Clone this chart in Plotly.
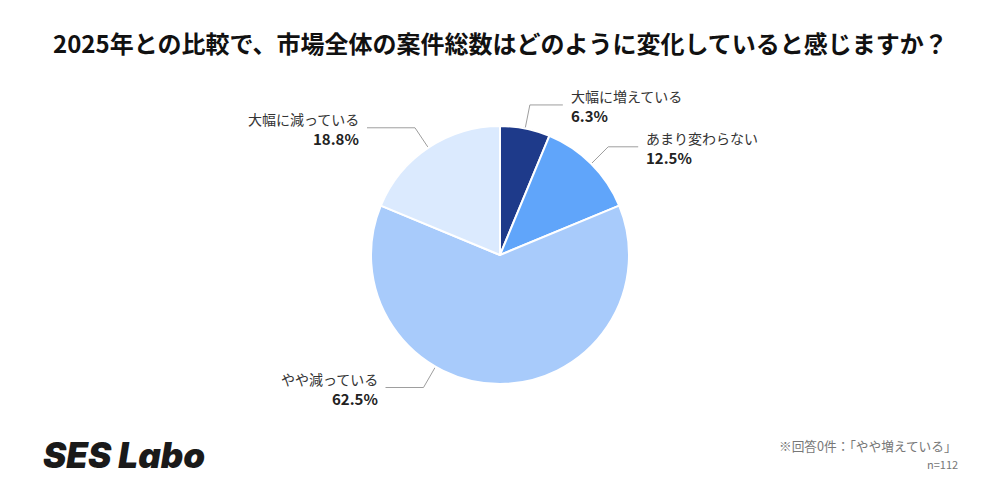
import math
import plotly.graph_objects as go

# ---- data ----
categories = ["大幅に増えている", "あまり変わらない", "やや減っている", "大幅に減っている"]
percent_labels = ["6.3%", "12.5%", "62.5%", "18.8%"]
values = [6.25, 12.5, 62.5, 18.75]
title_text = "2025年との比較で、市場全体の案件総数はどのように変化していると感じますか？"
note_text = "※回答0件：「やや増えている」"
n_text = "n=112"
logo_text = "SES Labo"

# ---- style ----
colors = ["#1e3a8a", "#60a5fa", "#a8cbfb", "#dbeafe"]
FONT = "Noto Sans CJK JP"
W, H = 1000, 500
CX, CY, R = 500, 255, 129          # pie geometry in pixels
RADIAL = 24                         # leader line radial length
label_angle_override = {2: 210.0}   # label anchor angle for large slice (deg, clockwise from top)
horiz_len = [33, 30, 38, 48]

fig = go.Figure()
fig.add_trace(go.Pie(
    labels=categories, values=values, sort=False, direction="clockwise",
    rotation=0, marker=dict(colors=colors, line=dict(color="white", width=2)),
    textinfo="none", hoverinfo="label+percent", showlegend=False,
    domain=dict(x=[(CX - R) / W, (CX + R) / W], y=[1 - (CY + R) / H, 1 - (CY - R) / H]),
))

total = sum(values)
annotations = []
cum = 0.0
for i, v in enumerate(values):
    mid = (cum + v / 2) / total * 360.0
    cum += v
    ang = math.radians(label_angle_override.get(i, mid))
    sx, sy = CX + (R + 1) * math.sin(ang), CY - (R + 1) * math.cos(ang)
    ex, ey = CX + (R + RADIAL) * math.sin(ang), CY - (R + RADIAL) * math.cos(ang)
    right = math.sin(ang) >= 0
    hx = ex + horiz_len[i] if right else ex - horiz_len[i]
    fig.add_trace(go.Scatter(x=[sx, ex, hx], y=[sy, ey, ey], mode="lines",
                             line=dict(color="#9e9e9e", width=1), hoverinfo="skip",
                             showlegend=False))
    tx = hx + 6 if right else hx - 6
    anchor = "left" if right else "right"
    annotations.append(dict(x=tx, y=ey - 9, text=categories[i], xref="x", yref="y",
                            showarrow=False, xanchor=anchor, yanchor="middle",
                            font=dict(family=FONT, size=14, color="#333333")))
    annotations.append(dict(x=tx, y=ey + 11, text="<b>" + percent_labels[i] + "</b>", xref="x", yref="y",
                            showarrow=False, xanchor=anchor, yanchor="middle",
                            font=dict(family=FONT, size=15, color="#222222")))

annotations += [
    dict(x=W / 2, y=42, text="<b>" + title_text + "</b>", xref="x", yref="y", showarrow=False,
         xanchor="center", yanchor="middle", font=dict(family=FONT, size=24, color="#111111")),
    dict(x=40, y=455, text="<i>" + logo_text + "</i>", xref="x", yref="y", showarrow=False,
         xanchor="left", yanchor="middle",
         font=dict(family="Inter", size=35, color="#1a1a1a", weight=900)),
    dict(x=959, y=445, text=note_text, xref="x", yref="y", showarrow=False,
         xanchor="right", yanchor="middle", font=dict(family=FONT, size=12.7, color="#777777")),
    dict(x=960, y=464, text=n_text, xref="x", yref="y", showarrow=False,
         xanchor="right", yanchor="middle", font=dict(family=FONT, size=11, color="#777777")),
]

fig.update_layout(
    width=W, height=H, margin=dict(l=0, r=0, t=0, b=0),
    paper_bgcolor="white", plot_bgcolor="rgba(0,0,0,0)",
    xaxis=dict(range=[0, W], visible=False, fixedrange=True, domain=[0, 1]),
    yaxis=dict(range=[H, 0], visible=False, fixedrange=True, domain=[0, 1]),
    annotations=annotations,
)
fig.write_html("out.html", config={"displayModeBar": False},
               post_script="document.body.style.margin='0';")
